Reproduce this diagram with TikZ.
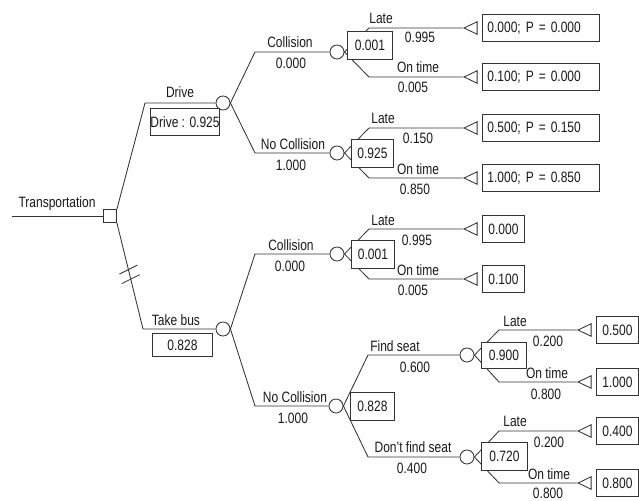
\documentclass[tikz,border=0pt]{standalone}
\usepackage{fontspec}
\setmainfont{Liberation Sans}[FakeStretch=0.8]
\usetikzlibrary{shapes.geometric,calc}

\colorlet{inkc}{black!80}
\tikzset{
  branch/.style={draw=inkc, line width=0.85pt},
  decision/.style={rectangle, draw=inkc, line width=0.85pt, fill=white, minimum size=13pt, inner sep=0pt},
  chance/.style={circle, draw=inkc, line width=0.85pt, fill=white, minimum size=14pt, inner sep=0pt},
  payoff/.style={isosceles triangle, isosceles triangle stretches, shape border rotate=180,
    draw=inkc, line width=0.85pt, fill=white, minimum width=12.5pt, minimum height=13pt, inner sep=0pt, anchor=apex},
  valbox/.style={draw=inkc, line width=0.85pt, fill=white, inner sep=0pt, minimum height=27pt, text=black!90},
  widebox/.style={valbox, anchor=west, inner xsep=5pt, text width=107pt, align=left},
  smallbox/.style={valbox, anchor=west, minimum width=42pt},
  lbl/.style={anchor=base, inner sep=0pt, text=black!90}
}

\begin{document}
\begin{tikzpicture}[x=1pt, y=-1pt, font=\fontsize{15}{17}\selectfont]
		\useasboundingbox (0,0) rectangle (639,500);

		% decision and chance nodes
		\coordinate (in) at (12,216);
		\node[decision] (root) at (110,216) {};
		\node[chance] (cd) at (223,103) {};
		\node[chance] (cb) at (223,329) {};
		\node[chance] (cdc) at (337,52) {};
		\node[chance] (cdn) at (337,153) {};
		\node[chance] (cbc) at (337,254) {};
		\node[chance] (cbn) at (336,406) {};
		\node[chance] (cfs) at (467,355) {};
		\node[chance] (cfn) at (467,457) {};

		% terminal nodes
		\foreach \n/\y in {tdc1/28, tdc2/77, tdn1/128, tdn2/178, tbc1/229, tbc2/279}
			\node[payoff] (\n) at (463,\y) {};
		\foreach \n/\y in {tfs1/330, tfs2/382, tfn1/431, tfn2/483}
			\node[payoff] (\n) at (577,\y) {};

		% branches
		\draw[branch] (in) -- (root.west);
		\draw[branch] (root.north east) -- (145,103) -- (cd.west);
		\draw[branch] (root.south east) -- (143,329) coordinate (tbk) -- (cb.west);
		\foreach \p/\c in {cd/cdc, cd/cdn, cb/cbc, cb/cbn, cbn/cfs, cbn/cfn}
			\draw[branch] (\p.east) -- ($(\p.center |- \c.west)+(32,0)$) -- (\c.west);
		\foreach \p/\c in {cdc/tdc1, cdc/tdc2, cdn/tdn1, cdn/tdn2, cbc/tbc1, cbc/tbc2,
				cfs/tfs1, cfs/tfs2, cfn/tfn1, cfn/tfn2}
			\draw[branch] (\p.east) -- ($(\p.center |- \c.apex)+(32,0)$) -- (\c.apex);

		% non-optimal branch mark
		\path (root.south east) -- (tbk) coordinate[pos=0.44] (hk1) coordinate[pos=0.53] (hk2);
		\foreach \h in {hk1,hk2}
			\draw[branch] ($(\h)+(-9,4.5)$) -- ($(\h)+(9,-4.5)$);

		% branch labels
		\node[lbl] at (57,207) {Transportation};
		\node[lbl] at (180,98) {Drive};
		\node[lbl] at (176,325) {Take bus};
		\node[lbl] at (290,48) {Collision};
		\node[lbl] at (291,69) {0.000};
		\node[lbl] at (293,149) {No Collision};
		\node[lbl] at (291,170) {1.000};
		\node[lbl] at (291,250) {Collision};
		\node[lbl] at (290,271) {0.000};
		\node[lbl] at (295,402) {No Collision};
		\node[lbl] at (293,423) {1.000};
		\node[lbl] at (395,351) {Find seat};
		\node[lbl] at (415,372) {0.600};
		\node[lbl] at (413,452) {Don't find seat};
		\node[lbl] at (412,473) {0.400};
		\foreach \x/\y/\t in {381/24/Late, 420/43/0.995, 418/73/On time, 413/93/0.005,
				383/123/Late, 418/143/0.150, 418/174/On time, 415/194/0.850,
				383/225/Late, 417/245/0.995, 418/275/On time, 413/295/0.005,
				515/326/Late, 548/346/0.200, 547/378/On time, 546/399/0.800,
				515/426/Late, 549/447/0.200, 549/479/On time, 548/498/0.800}
			\node[lbl] at (\x,\y) {\t};

		% expected values
		\node[valbox, anchor=north west, minimum width=65pt] (vd) at (150,108) {Drive : 0.925};
		\node[valbox, anchor=north west, minimum width=60pt, minimum height=23pt] (vb) at (152,333) {0.828};
		\node[valbox, anchor=north west, minimum width=45pt, minimum height=28pt] (vdc) at (347,31) {0.001};
		\node[valbox, anchor=north west, minimum width=42pt, minimum height=28pt] (vdn) at (351,139) {0.925};
		\node[valbox, anchor=north west, minimum width=43pt, minimum height=28pt] (vbc) at (351,240) {0.001};
		\node[valbox, anchor=north west, minimum width=44pt, minimum height=28pt] (vbn) at (350,392) {0.828};
		\node[valbox, anchor=north west, minimum width=45pt, minimum height=26pt] (vfs) at (481,342) {0.900};
		\node[valbox, anchor=north west, minimum width=46pt, minimum height=28pt] (vfn) at (481,442) {0.720};

		% payoffs
		\node[widebox] (pdc1) at (482,28) {0.000; P = 0.000};
		\node[widebox] (pdc2) at (482,77) {0.100; P = 0.000};
		\node[widebox] (pdn1) at (482,128) {0.500; P = 0.150};
		\node[widebox] (pdn2) at (482,178) {1.000; P = 0.850};
		\node[smallbox] (pbc1) at (482,229) {0.000};
		\node[smallbox] (pbc2) at (482,279) {0.100};
		\node[smallbox] (pfs1) at (596,330) {0.500};
		\node[smallbox] (pfs2) at (596,382) {1.000};
		\node[smallbox] (pfn1) at (596,431) {0.400};
		\node[smallbox] (pfn2) at (596,483) {0.800};
	\end{tikzpicture}
\end{document}
